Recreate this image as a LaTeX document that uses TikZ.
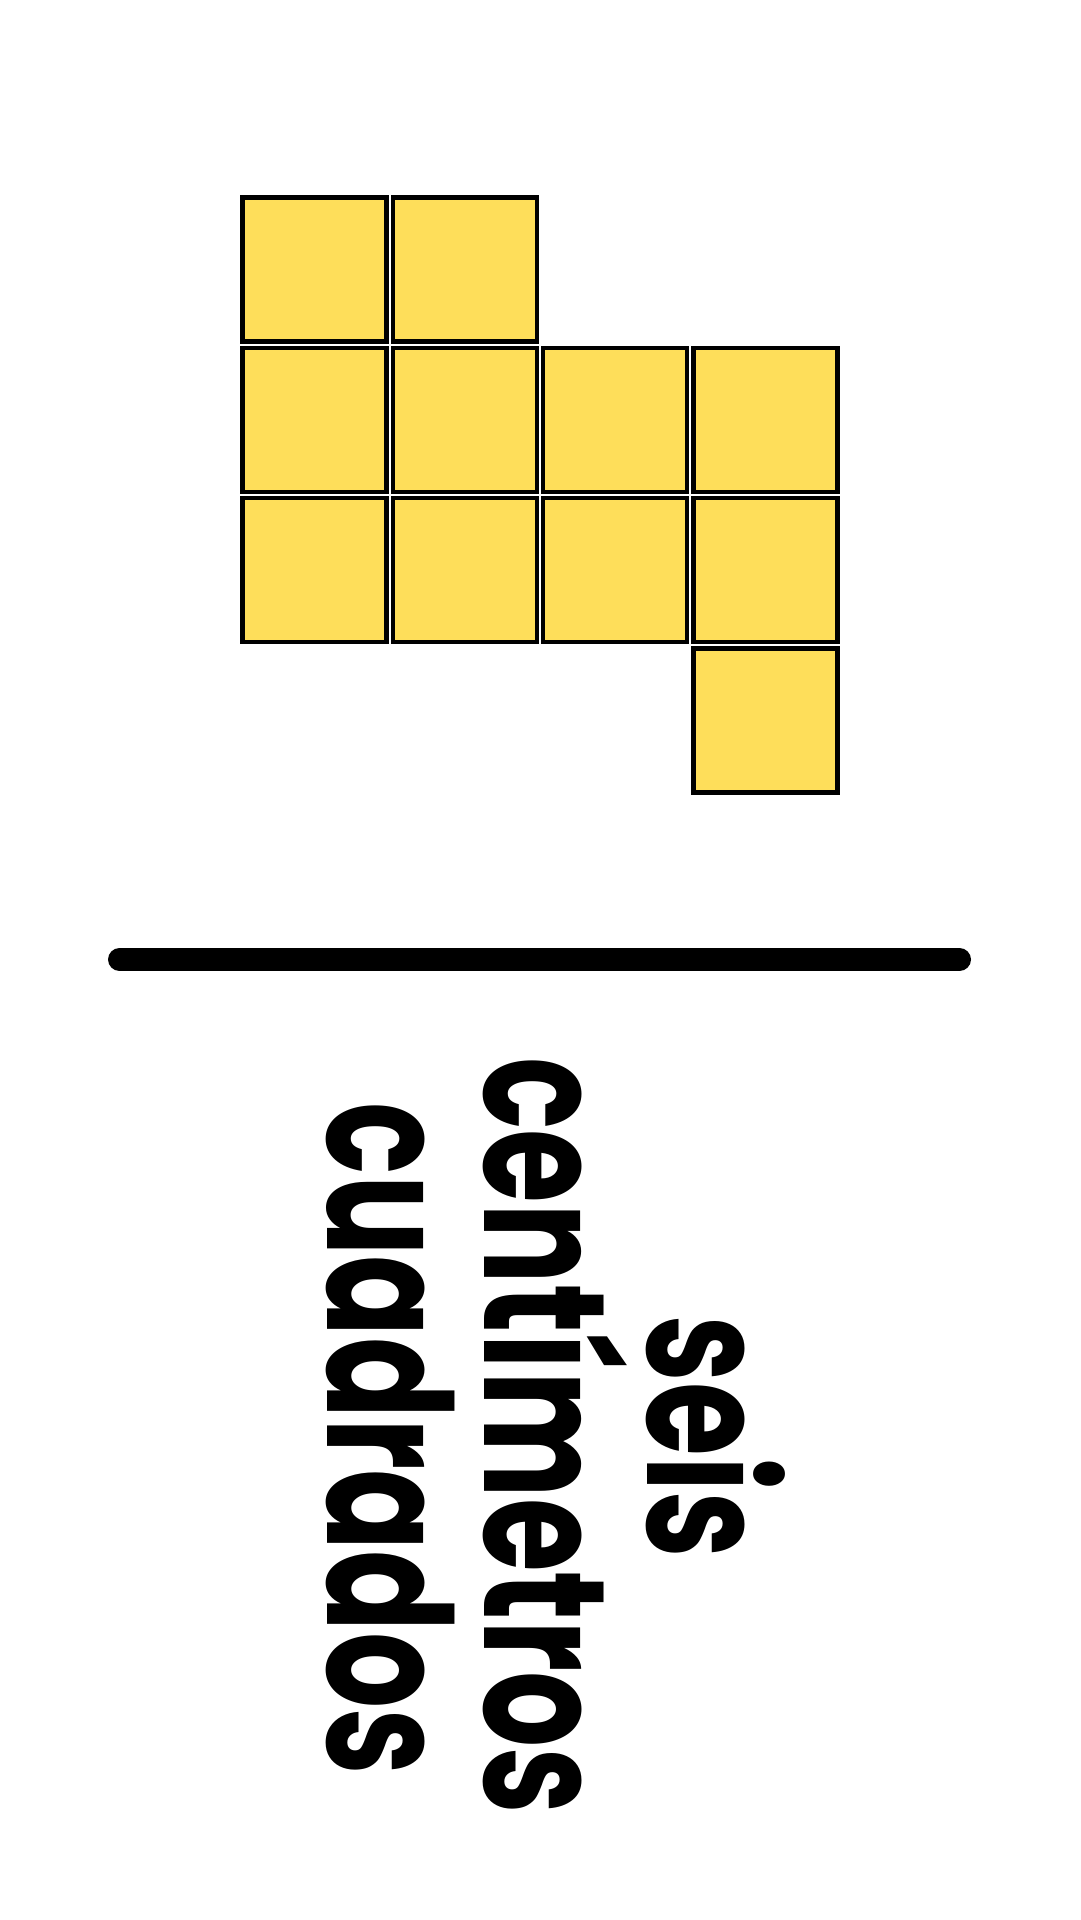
\documentclass[tikz,border=0pt]{standalone}
\usepackage{fontspec}
\newfontfamily\wordfont{Poppins}[FakeStretch=0.695]
\definecolor{tileyellow}{HTML}{FEDE5A}
\usepackage{tikz}
\tikzset{
  tile/.style={rectangle, draw=black, fill=tileyellow, line width=0.45mm,
    minimum size=14.4mm, inner sep=0pt},
  rulebar/.style={line width=2.3mm, line cap=round, black},
  wordline/.style={rotate=-90, anchor=base, inner sep=0pt, text=black,
    font=\wordfont\bfseries\fontsize{49pt}{49pt}\selectfont},
}

\begin{document}
\begin{tikzpicture}[x=0.1mm, y=-0.1mm]
\useasboundingbox (0,0) rectangle (1080,1920);
\fill[white] (0,0) rectangle (1080,1920);
% tiles (column/row)
\foreach \c/\r in {0/0, 1/0, 0/1, 1/1, 2/1, 3/1, 0/2, 1/2, 2/2, 3/2, 3/3}
  \node[tile] (tile-\c-\r) at ({314.5+150.3*\c}, {269.5+150.3*\r}) {};
% dividing rule
\coordinate (rule-l) at (119.5,959.5);
\coordinate (rule-r) at (959.5,959.5);
\draw[rulebar] (rule-l) -- (rule-r);
% rotated words
\node[wordline] (w-seis) at (647,1437) {seis};
\node[wordline] (w-centimetros) at (484,1436) {centímetros};
\node[wordline] (w-cuadrados) at (327,1439) {cuadrados};
\end{tikzpicture}
\end{document}
